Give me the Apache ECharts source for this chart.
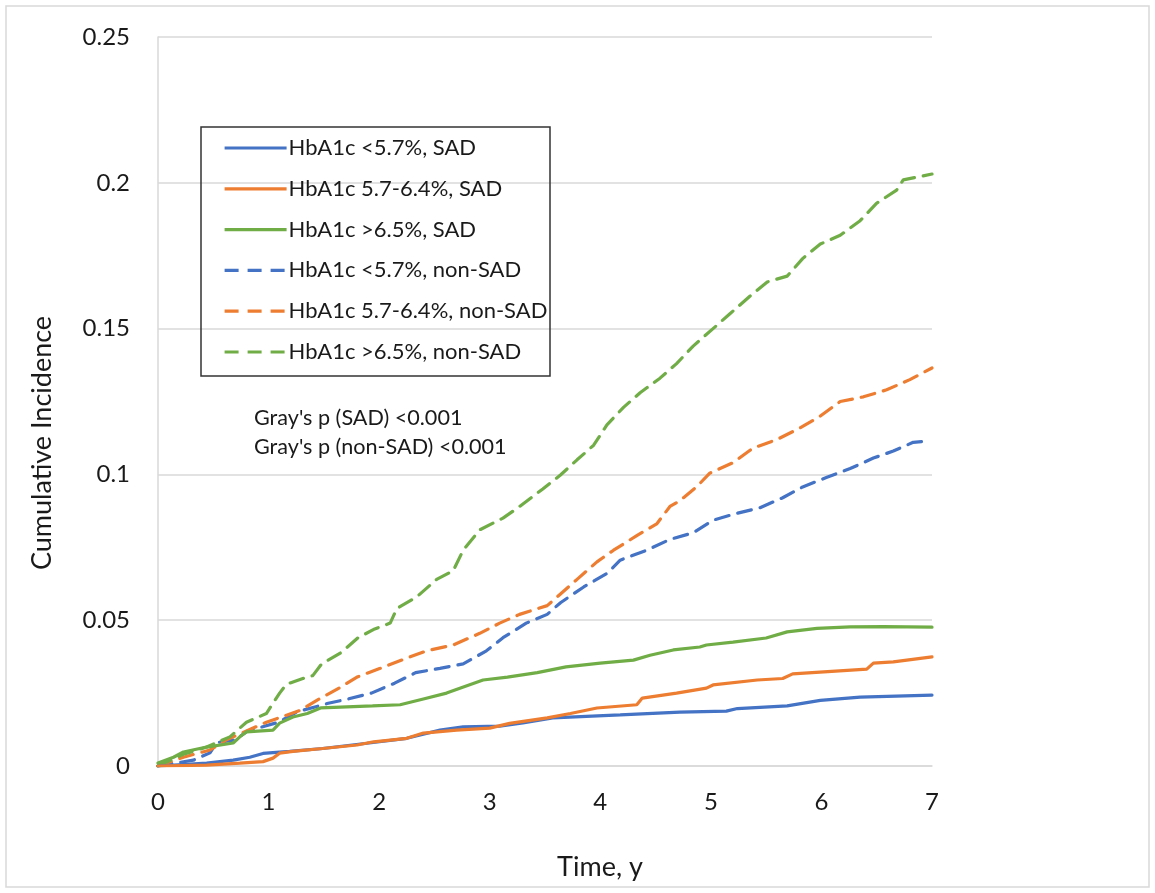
<!DOCTYPE html>
<html>
<head>
<meta charset="utf-8">
<script src="https://cdn.jsdelivr.net/npm/echarts@6/dist/echarts.min.js"></script>
<style>
html,body{margin:0;padding:0;background:#fff;}
#chart{width:1155px;height:893px;}
</style>
</head>
<body>
<div id="chart"></div>
<script>
// ---- data (time in years, cumulative incidence) ----
var seriesNames = [
  'HbA1c <5.7%, SAD',
  'HbA1c 5.7-6.4%, SAD',
  'HbA1c >6.5%, SAD',
  'HbA1c <5.7%, non-SAD',
  'HbA1c 5.7-6.4%, non-SAD',
  'HbA1c >6.5%, non-SAD'
];
var xTicks = [0, 1, 2, 3, 4, 5, 6, 7];
var yTicks = [0, 0.05, 0.1, 0.15, 0.2, 0.25];

var tBlueSAD = [0,0.44,0.68,0.83,0.95,1.19,1.49,1.89,2.25,2.55,2.76,3.09,3.30,3.57,4.18,4.72,5.14,5.24,5.69,5.99,6.35,7.0];
var vBlueSAD = [0,0.001,0.002,0.003,0.0043,0.005,0.006,0.0078,0.0095,0.0123,0.0134,0.0137,0.0148,0.0165,0.0175,0.0185,0.0188,0.0197,0.0206,0.0225,0.0236,0.0243];

var tOrangeSAD = [0,0.44,0.74,0.95,1.04,1.10,1.22,1.49,1.80,1.95,2.25,2.40,2.70,3.0,3.18,3.52,3.73,3.97,4.33,4.38,4.69,4.96,5.02,5.42,5.65,5.74,6.41,6.47,6.65,7.0];
var vOrangeSAD = [0,0.0003,0.001,0.0015,0.0027,0.0044,0.005,0.006,0.0072,0.0083,0.0095,0.0113,0.0123,0.013,0.0146,0.0165,0.018,0.0199,0.021,0.0233,0.025,0.0267,0.0278,0.0295,0.030,0.0316,0.0332,0.0353,0.0357,0.0374];

var tGreenSAD = [0,0.14,0.23,0.44,0.68,0.74,0.80,1.04,1.10,1.22,1.35,1.47,1.65,1.94,2.19,2.40,2.61,2.73,2.94,3.16,3.43,3.69,4.0,4.3,4.45,4.66,4.90,4.96,5.20,5.50,5.69,5.96,6.26,6.56,7.0];
var vGreenSAD = [0.001,0.003,0.0048,0.0065,0.0079,0.010,0.0117,0.0123,0.0147,0.0168,0.018,0.0199,0.0202,0.0206,0.021,0.023,0.025,0.0267,0.0295,0.0305,0.032,0.034,0.0353,0.0363,0.038,0.0398,0.0408,0.0415,0.0425,0.0439,0.046,0.0472,0.0477,0.0478,0.0476];

var tBlueNon = [0,0.32,0.47,0.53,0.70,0.81,1.09,1.26,1.54,1.72,1.93,2.14,2.33,2.55,2.76,2.97,3.12,3.33,3.52,3.64,3.85,4.06,4.18,4.42,4.63,4.84,5.02,5.24,5.44,5.65,5.83,6.05,6.26,6.47,6.65,6.83,6.97];
var vBlueNon = [0,0.002,0.0045,0.008,0.009,0.012,0.015,0.0186,0.0215,0.023,0.025,0.0284,0.032,0.0335,0.035,0.0395,0.044,0.049,0.052,0.056,0.0614,0.066,0.0706,0.074,0.0777,0.080,0.0843,0.0867,0.0885,0.092,0.0957,0.099,0.102,0.1056,0.108,0.111,0.1115];

var tOrangeNon = [0,0.23,0.47,0.62,0.80,0.98,1.13,1.28,1.44,1.65,1.80,2.01,2.25,2.43,2.67,2.91,3.09,3.27,3.52,3.64,3.79,3.97,4.12,4.33,4.51,4.63,4.72,4.87,4.99,5.20,5.38,5.60,5.81,5.99,6.17,6.38,6.59,6.80,7.0];
var vOrangeNon = [0,0.003,0.0055,0.009,0.012,0.015,0.017,0.019,0.0226,0.027,0.0305,0.0335,0.037,0.0395,0.0415,0.0455,0.049,0.052,0.055,0.059,0.064,0.070,0.074,0.079,0.083,0.089,0.091,0.0957,0.1004,0.104,0.109,0.112,0.116,0.120,0.125,0.1266,0.129,0.1325,0.1365];

var tGreenNon = [0,0.23,0.44,0.65,0.80,0.98,1.10,1.16,1.31,1.40,1.48,1.66,1.81,1.96,2.10,2.16,2.34,2.52,2.67,2.76,2.91,3.12,3.27,3.48,3.64,3.79,3.94,4.06,4.21,4.36,4.54,4.69,4.84,5.02,5.17,5.35,5.51,5.69,5.83,5.99,6.17,6.35,6.50,6.68,6.74,7.0];
var vGreenNon = [0,0.004,0.0065,0.010,0.015,0.018,0.025,0.028,0.030,0.031,0.035,0.039,0.044,0.047,0.049,0.054,0.058,0.064,0.067,0.074,0.081,0.085,0.089,0.095,0.0998,0.105,0.110,0.117,0.123,0.128,0.133,0.138,0.144,0.150,0.155,0.161,0.166,0.168,0.174,0.179,0.182,0.187,0.193,0.1975,0.201,0.203];

var annotationLines = ["Gray's p (SAD) <0.001", "Gray's p (non-SAD) <0.001"];
var xAxisTitle = 'Time, y';
var yAxisTitle = 'Cumulative Incidence';

// ---- build ----
function pairs(t, v) { return t.map(function (x, i) { return [x, v[i]]; }); }
var blue = '#4472C4', orange = '#ED7D31', green = '#70AD47';
var FAM = 'Lato, "Open Sans", sans-serif';
var dash = [14, 9];

function mk(name, t, v, color, dashed) {
  return {
    name: name, type: 'line', data: pairs(t, v),
    symbol: 'none', showSymbol: false, smooth: false,
    lineStyle: { color: color, width: 3.2, type: dashed ? dash : 'solid', cap: 'round' },
    itemStyle: { color: color },
    z: dashed ? 2 : 3
  };
}

function txt(s, x, y, size, extra) {
  var o = { type: 'text', x: x, y: y, z: 30,
    style: { text: s, fill: '#1a1a1a', fontSize: size, fontFamily: FAM,
      font: size + 'px ' + FAM, align: 'left', verticalAlign: 'middle' } };
  if (extra) for (var k in extra) { if (k === 'style') { for (var j in extra.style) o.style[j] = extra.style[j]; } else o[k] = extra[k]; }
  return o;
}

var chart = echarts.init(document.getElementById('chart'), null, { renderer: 'canvas' });
chart.setOption({
  backgroundColor: '#ffffff',
  animation: false,
  grid: { left: 158, right: 223, top: 37, bottom: 127, containLabel: false },
  xAxis: {
    type: 'value', min: 0, max: 7, interval: 1,
    axisLine: { show: true, lineStyle: { color: '#d9d9d9', width: 1.5 } },
    axisTick: { show: false },
    splitLine: { show: false },
    axisLabel: { color: '#1a1a1a', fontSize: 24, fontFamily: FAM, margin: 24,
      formatter: function (v) { return xTicks.indexOf(v) >= 0 ? String(v) : ''; } }
  },
  yAxis: {
    type: 'value', min: 0, max: 0.25, interval: 0.05,
    axisLine: { show: true, lineStyle: { color: '#d9d9d9', width: 1.5 } },
    axisTick: { show: false },
    splitLine: { show: true, lineStyle: { color: '#d9d9d9', width: 1.5 } },
    axisLabel: { color: '#1a1a1a', fontSize: 24, fontFamily: FAM, margin: 28,
      formatter: function (v) {
        for (var i = 0; i < yTicks.length; i++) if (Math.abs(yTicks[i] - v) < 1e-9) return String(yTicks[i]);
        return '';
      } }
  },
  legend: {
    orient: 'vertical', left: 218, top: 132, z: 20,
    itemWidth: 62, itemHeight: 22, itemGap: 18.8,
    data: seriesNames,
    itemStyle: { color: 'rgba(0,0,0,0)', borderWidth: 0, opacity: 0 },
    lineStyle: { width: 3.2, type: 'inherit', cap: 'butt' },
    textStyle: { color: '#1a1a1a', fontSize: 22, fontFamily: FAM, lineHeight: 22, padding: [0, 0, 0, -3] },
    backgroundColor: 'transparent'
  },
  graphic: [
    { type: 'rect', x: 6, y: 6, shape: { width: 1143, height: 881 },
      style: { fill: 'none', stroke: '#d9d9d9', lineWidth: 1.5 }, silent: true, z: 0 },
    { type: 'rect', x: 201, y: 127, shape: { width: 349, height: 249 },
      style: { fill: 'none', stroke: '#333333', lineWidth: 1.5 }, silent: true, z: 1 },
    txt(annotationLines[0], 254, 418, 21.6),
    txt(annotationLines[1], 254, 447, 21.6),
    txt(yAxisTitle, 42, 443, 27, { rotation: Math.PI / 2, style: { align: 'center' } }),
    txt(xAxisTitle, 600, 867, 27, { style: { align: 'center' } })
  ],
  series: [
    mk(seriesNames[0], tBlueSAD, vBlueSAD, blue, false),
    mk(seriesNames[1], tOrangeSAD, vOrangeSAD, orange, false),
    mk(seriesNames[2], tGreenSAD, vGreenSAD, green, false),
    mk(seriesNames[3], tBlueNon, vBlueNon, blue, true),
    mk(seriesNames[4], tOrangeNon, vOrangeNon, orange, true),
    mk(seriesNames[5], tGreenNon, vGreenNon, green, true)
  ]
});
</script>
</body>
</html>
